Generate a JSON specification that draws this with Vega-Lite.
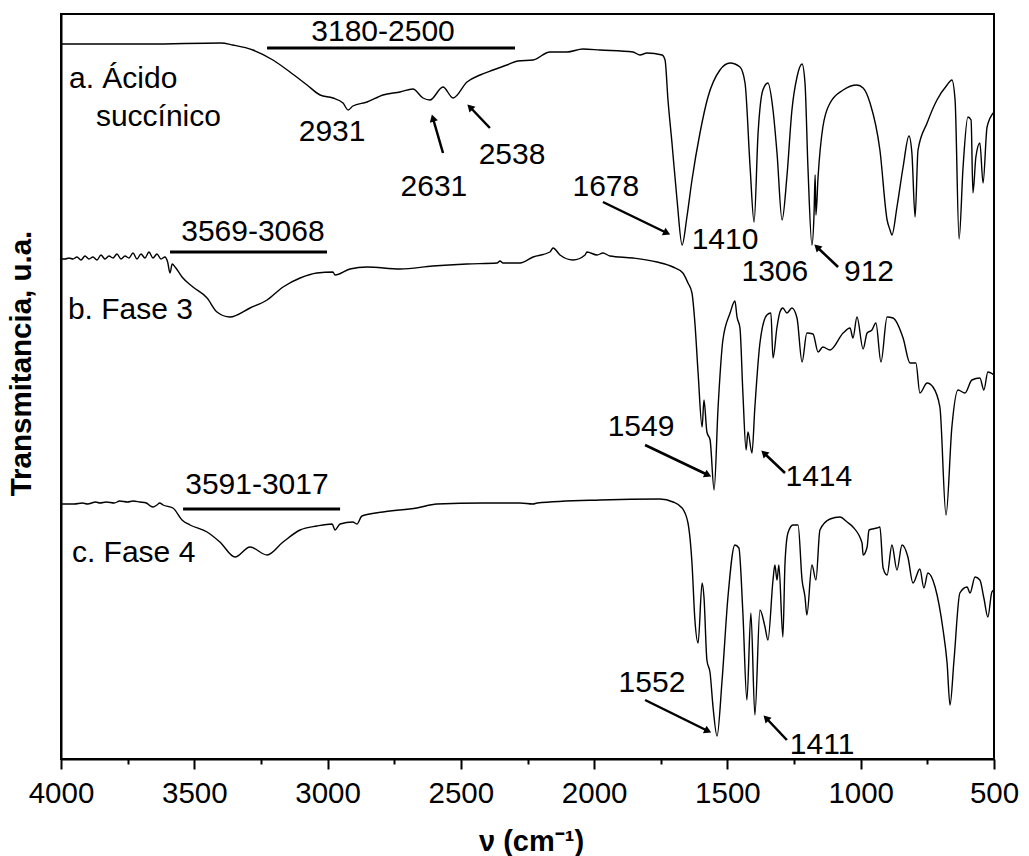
{
  "$schema": "https://vega.github.io/schema/vega-lite/v6.json",
  "width": 933,
  "height": 745,
  "autosize": {"type": "none"},
  "padding": {"left": 61, "top": 14, "right": 35, "bottom": 97},
  "background": "white",
  "config": {
    "view": {"stroke": "black", "strokeWidth": 2},
    "font": "Liberation Sans"
  },
  "datasets": {
    "spec": [
      {"s":"a","x":4000,"y":715},{"s":"a","x":3670,"y":715},{"s":"a","x":3400,"y":716},{"s":"a","x":3355,"y":714},{"s":"a","x":3280,"y":709},{"s":"a","x":3205,"y":699},{"s":"a","x":3141,"y":687},{"s":"a","x":3077,"y":674},{"s":"a","x":3028,"y":664},{"s":"a","x":2980,"y":661},{"s":"a","x":2942,"y":656},{"s":"a","x":2923,"y":649},{"s":"a","x":2905,"y":653},{"s":"a","x":2852,"y":657},{"s":"a","x":2792,"y":664},{"s":"a","x":2728,"y":667},{"s":"a","x":2680,"y":670},{"s":"a","x":2642,"y":661},{"s":"a","x":2616,"y":659},{"s":"a","x":2567,"y":672},{"s":"a","x":2529,"y":661},{"s":"a","x":2477,"y":677},{"s":"a","x":2428,"y":684},{"s":"a","x":2379,"y":689},{"s":"a","x":2327,"y":694},{"s":"a","x":2286,"y":698},{"s":"a","x":2229,"y":699},{"s":"a","x":2166,"y":707},{"s":"a","x":2102,"y":707},{"s":"a","x":2042,"y":710},{"s":"a","x":1978,"y":709},{"s":"a","x":1854,"y":707},{"s":"a","x":1828,"y":704},{"s":"a","x":1802,"y":706},{"s":"a","x":1745,"y":704},{"s":"a","x":1734,"y":699},{"s":"a","x":1723,"y":659},{"s":"a","x":1708,"y":616},{"s":"a","x":1689,"y":559},{"s":"a","x":1670,"y":514},{"s":"a","x":1652,"y":542},{"s":"a","x":1633,"y":579},{"s":"a","x":1603,"y":626},{"s":"a","x":1573,"y":662},{"s":"a","x":1528,"y":689},{"s":"a","x":1490,"y":696},{"s":"a","x":1453,"y":692},{"s":"a","x":1434,"y":676},{"s":"a","x":1415,"y":592},{"s":"a","x":1400,"y":537},{"s":"a","x":1385,"y":626},{"s":"a","x":1367,"y":669},{"s":"a","x":1348,"y":676},{"s":"a","x":1329,"y":649},{"s":"a","x":1314,"y":606},{"s":"a","x":1295,"y":539},{"s":"a","x":1277,"y":582},{"s":"a","x":1258,"y":649},{"s":"a","x":1239,"y":682},{"s":"a","x":1220,"y":695},{"s":"a","x":1209,"y":676},{"s":"a","x":1198,"y":592},{"s":"a","x":1183,"y":514},{"s":"a","x":1175,"y":546},{"s":"a","x":1171,"y":584},{"s":"a","x":1168,"y":544},{"s":"a","x":1160,"y":582},{"s":"a","x":1142,"y":632},{"s":"a","x":1115,"y":656},{"s":"a","x":1066,"y":669},{"s":"a","x":1014,"y":674},{"s":"a","x":991,"y":671},{"s":"a","x":965,"y":656},{"s":"a","x":928,"y":609},{"s":"a","x":901,"y":539},{"s":"a","x":890,"y":529},{"s":"a","x":883,"y":524},{"s":"a","x":864,"y":552},{"s":"a","x":841,"y":592},{"s":"a","x":819,"y":623},{"s":"a","x":808,"y":606},{"s":"a","x":796,"y":542},{"s":"a","x":785,"y":609},{"s":"a","x":751,"y":636},{"s":"a","x":714,"y":659},{"s":"a","x":676,"y":674},{"s":"a","x":658,"y":679},{"s":"a","x":646,"y":659},{"s":"a","x":631,"y":520},{"s":"a","x":616,"y":592},{"s":"a","x":598,"y":642},{"s":"a","x":586,"y":639},{"s":"a","x":579,"y":566},{"s":"a","x":568,"y":602},{"s":"a","x":553,"y":616},{"s":"a","x":541,"y":576},{"s":"a","x":526,"y":632},{"s":"a","x":500,"y":647},
      {"s":"b","x":4000,"y":500},{"s":"b","x":3985,"y":500},{"s":"b","x":3970,"y":501},{"s":"b","x":3955,"y":500},{"s":"b","x":3940,"y":502},{"s":"b","x":3925,"y":499},{"s":"b","x":3910,"y":503},{"s":"b","x":3895,"y":500},{"s":"b","x":3880,"y":502},{"s":"b","x":3865,"y":499},{"s":"b","x":3850,"y":504},{"s":"b","x":3835,"y":500},{"s":"b","x":3820,"y":503},{"s":"b","x":3805,"y":501},{"s":"b","x":3790,"y":505},{"s":"b","x":3775,"y":500},{"s":"b","x":3760,"y":503},{"s":"b","x":3745,"y":501},{"s":"b","x":3730,"y":506},{"s":"b","x":3715,"y":500},{"s":"b","x":3700,"y":505},{"s":"b","x":3685,"y":501},{"s":"b","x":3670,"y":507},{"s":"b","x":3655,"y":501},{"s":"b","x":3640,"y":505},{"s":"b","x":3625,"y":500},{"s":"b","x":3610,"y":502},{"s":"b","x":3600,"y":497},{"s":"b","x":3591,"y":486},{"s":"b","x":3583,"y":495},{"s":"b","x":3572,"y":492},{"s":"b","x":3546,"y":482},{"s":"b","x":3505,"y":472},{"s":"b","x":3452,"y":461},{"s":"b","x":3415,"y":447},{"s":"b","x":3366,"y":442},{"s":"b","x":3291,"y":451},{"s":"b","x":3227,"y":459},{"s":"b","x":3167,"y":472},{"s":"b","x":3103,"y":481},{"s":"b","x":3040,"y":486},{"s":"b","x":2980,"y":487},{"s":"b","x":2972,"y":484},{"s":"b","x":2916,"y":490},{"s":"b","x":2852,"y":492},{"s":"b","x":2728,"y":490},{"s":"b","x":2605,"y":493},{"s":"b","x":2477,"y":495},{"s":"b","x":2364,"y":496},{"s":"b","x":2353,"y":498},{"s":"b","x":2342,"y":496},{"s":"b","x":2278,"y":496},{"s":"b","x":2229,"y":502},{"s":"b","x":2166,"y":507},{"s":"b","x":2154,"y":511},{"s":"b","x":2128,"y":504},{"s":"b","x":2079,"y":499},{"s":"b","x":2034,"y":504},{"s":"b","x":2027,"y":507},{"s":"b","x":1989,"y":504},{"s":"b","x":1967,"y":506},{"s":"b","x":1941,"y":503},{"s":"b","x":1854,"y":501},{"s":"b","x":1764,"y":497},{"s":"b","x":1704,"y":492},{"s":"b","x":1667,"y":486},{"s":"b","x":1648,"y":476},{"s":"b","x":1633,"y":466},{"s":"b","x":1622,"y":436},{"s":"b","x":1610,"y":386},{"s":"b","x":1595,"y":332},{"s":"b","x":1588,"y":359},{"s":"b","x":1577,"y":327},{"s":"b","x":1565,"y":319},{"s":"b","x":1550,"y":269},{"s":"b","x":1535,"y":352},{"s":"b","x":1517,"y":419},{"s":"b","x":1490,"y":446},{"s":"b","x":1472,"y":458},{"s":"b","x":1464,"y":442},{"s":"b","x":1453,"y":431},{"s":"b","x":1442,"y":366},{"s":"b","x":1430,"y":309},{"s":"b","x":1423,"y":327},{"s":"b","x":1408,"y":306},{"s":"b","x":1397,"y":352},{"s":"b","x":1378,"y":416},{"s":"b","x":1352,"y":444},{"s":"b","x":1337,"y":446},{"s":"b","x":1329,"y":401},{"s":"b","x":1314,"y":432},{"s":"b","x":1303,"y":447},{"s":"b","x":1292,"y":451},{"s":"b","x":1277,"y":446},{"s":"b","x":1258,"y":451},{"s":"b","x":1239,"y":441},{"s":"b","x":1220,"y":397},{"s":"b","x":1202,"y":426},{"s":"b","x":1179,"y":425},{"s":"b","x":1160,"y":407},{"s":"b","x":1142,"y":412},{"s":"b","x":1115,"y":409},{"s":"b","x":1066,"y":426},{"s":"b","x":1040,"y":431},{"s":"b","x":1029,"y":421},{"s":"b","x":1014,"y":442},{"s":"b","x":991,"y":410},{"s":"b","x":976,"y":426},{"s":"b","x":958,"y":429},{"s":"b","x":943,"y":436},{"s":"b","x":924,"y":397},{"s":"b","x":901,"y":442},{"s":"b","x":879,"y":441},{"s":"b","x":841,"y":421},{"s":"b","x":815,"y":396},{"s":"b","x":793,"y":396},{"s":"b","x":778,"y":366},{"s":"b","x":751,"y":376},{"s":"b","x":729,"y":372},{"s":"b","x":703,"y":352},{"s":"b","x":680,"y":244},{"s":"b","x":658,"y":332},{"s":"b","x":635,"y":369},{"s":"b","x":609,"y":366},{"s":"b","x":583,"y":379},{"s":"b","x":553,"y":381},{"s":"b","x":538,"y":369},{"s":"b","x":523,"y":387},{"s":"b","x":500,"y":384},
      {"s":"c","x":4000,"y":255},{"s":"c","x":3950,"y":255},{"s":"c","x":3920,"y":256},{"s":"c","x":3900,"y":255},{"s":"c","x":3870,"y":257},{"s":"c","x":3854,"y":256},{"s":"c","x":3830,"y":257},{"s":"c","x":3800,"y":256},{"s":"c","x":3780,"y":258},{"s":"c","x":3750,"y":257},{"s":"c","x":3730,"y":258},{"s":"c","x":3704,"y":257},{"s":"c","x":3680,"y":256},{"s":"c","x":3665,"y":253},{"s":"c","x":3655,"y":252},{"s":"c","x":3640,"y":254},{"s":"c","x":3630,"y":256},{"s":"c","x":3617,"y":254},{"s":"c","x":3580,"y":251},{"s":"c","x":3546,"y":239},{"s":"c","x":3516,"y":234},{"s":"c","x":3452,"y":227},{"s":"c","x":3404,"y":217},{"s":"c","x":3347,"y":202},{"s":"c","x":3291,"y":212},{"s":"c","x":3227,"y":204},{"s":"c","x":3167,"y":217},{"s":"c","x":3103,"y":229},{"s":"c","x":3040,"y":233},{"s":"c","x":2983,"y":235},{"s":"c","x":2972,"y":229},{"s":"c","x":2953,"y":235},{"s":"c","x":2905,"y":237},{"s":"c","x":2890,"y":235},{"s":"c","x":2871,"y":243},{"s":"c","x":2792,"y":247},{"s":"c","x":2665,"y":251},{"s":"c","x":2590,"y":255},{"s":"c","x":2417,"y":256},{"s":"c","x":2278,"y":256},{"s":"c","x":2229,"y":255},{"s":"c","x":2214,"y":256},{"s":"c","x":1978,"y":259},{"s":"c","x":1753,"y":260},{"s":"c","x":1704,"y":257},{"s":"c","x":1670,"y":251},{"s":"c","x":1648,"y":236},{"s":"c","x":1633,"y":196},{"s":"c","x":1622,"y":139},{"s":"c","x":1610,"y":116},{"s":"c","x":1595,"y":176},{"s":"c","x":1588,"y":162},{"s":"c","x":1577,"y":99},{"s":"c","x":1565,"y":86},{"s":"c","x":1554,"y":52},{"s":"c","x":1539,"y":23},{"s":"c","x":1520,"y":79},{"s":"c","x":1498,"y":162},{"s":"c","x":1472,"y":214},{"s":"c","x":1457,"y":211},{"s":"c","x":1442,"y":146},{"s":"c","x":1427,"y":59},{"s":"c","x":1412,"y":146},{"s":"c","x":1397,"y":44},{"s":"c","x":1378,"y":149},{"s":"c","x":1359,"y":132},{"s":"c","x":1348,"y":119},{"s":"c","x":1329,"y":179},{"s":"c","x":1322,"y":194},{"s":"c","x":1314,"y":179},{"s":"c","x":1307,"y":194},{"s":"c","x":1292,"y":122},{"s":"c","x":1284,"y":196},{"s":"c","x":1273,"y":226},{"s":"c","x":1254,"y":234},{"s":"c","x":1235,"y":234},{"s":"c","x":1220,"y":179},{"s":"c","x":1209,"y":162},{"s":"c","x":1202,"y":144},{"s":"c","x":1183,"y":194},{"s":"c","x":1168,"y":179},{"s":"c","x":1153,"y":229},{"s":"c","x":1115,"y":240},{"s":"c","x":1078,"y":242},{"s":"c","x":1051,"y":237},{"s":"c","x":1029,"y":232},{"s":"c","x":995,"y":216},{"s":"c","x":991,"y":204},{"s":"c","x":976,"y":212},{"s":"c","x":969,"y":229},{"s":"c","x":939,"y":231},{"s":"c","x":928,"y":232},{"s":"c","x":916,"y":191},{"s":"c","x":901,"y":184},{"s":"c","x":883,"y":214},{"s":"c","x":864,"y":189},{"s":"c","x":845,"y":214},{"s":"c","x":823,"y":202},{"s":"c","x":804,"y":176},{"s":"c","x":778,"y":190},{"s":"c","x":763,"y":171},{"s":"c","x":748,"y":186},{"s":"c","x":721,"y":172},{"s":"c","x":691,"y":129},{"s":"c","x":676,"y":96},{"s":"c","x":665,"y":54},{"s":"c","x":650,"y":99},{"s":"c","x":628,"y":166},{"s":"c","x":601,"y":172},{"s":"c","x":590,"y":166},{"s":"c","x":571,"y":182},{"s":"c","x":553,"y":179},{"s":"c","x":538,"y":161},{"s":"c","x":523,"y":142},{"s":"c","x":508,"y":167},{"s":"c","x":500,"y":169}
    ],
    "names": [
      {"t":"a. Ácido","x":3970,"y":680},
      {"t":"succínico","x":3869,"y":642},
      {"t":"b. Fase 3","x":3974,"y":449},
      {"t":"c. Fase 4","x":3959,"y":206}
    ],
    "labels": [
      {"t":"3180-2500","x":2792,"y":727},
      {"t":"2931","x":2983,"y":627},
      {"t":"2631","x":2601,"y":572},
      {"t":"2538","x":2308,"y":604},
      {"t":"1678","x":1956,"y":572},
      {"t":"1410","x":1509,"y":519},
      {"t":"1306","x":1322,"y":487},
      {"t":"912","x":969,"y":487},
      {"t":"3569-3068","x":3280,"y":527},
      {"t":"1549","x":1824,"y":332},
      {"t":"1414","x":1157,"y":282},
      {"t":"3591-3017","x":3265,"y":274},
      {"t":"1552","x":1783,"y":76},
      {"t":"1411","x":1145,"y":14}
    ],
    "bars": [
      {"x":3227,"x2":2297,"y":711},
      {"x":3591,"x2":3002,"y":507},
      {"x":3542,"x2":2953,"y":250}
    ],
    "arrows": [
      {"x":2567,"y":606,"x2":2605,"y2":641,"ang":344},
      {"x":2391,"y":631,"x2":2466,"y2":652,"ang":316},
      {"x":1967,"y":557,"x2":1727,"y2":526,"ang":116},
      {"x":1085,"y":492,"x2":1164,"y2":512,"ang":314},
      {"x":1809,"y":314,"x2":1573,"y2":284,"ang":116},
      {"x":1284,"y":286,"x2":1363,"y2":306,"ang":314},
      {"x":1809,"y":59,"x2":1573,"y2":28,"ang":116},
      {"x":1277,"y":19,"x2":1355,"y2":41,"ang":316}
    ]
  },
  "encoding": {
    "x": {
      "field": "x", "type": "quantitative",
      "scale": {"domain": [500, 4000], "reverse": true, "nice": false, "zero": false},
      "axis": {
        "title": "ν (cm⁻¹)",
        "titleFont": "Liberation Sans", "titleFontSize": 29, "titleFontWeight": "bold", "titleColor": "black",
        "titleX": 470, "titleY": 91, "titleBaseline": "alphabetic", "titleAlign": "center",
        "values": [500,750,1000,1250,1500,1750,2000,2250,2500,2750,3000,3250,3500,3750,4000],
        "labelExpr": "datum.value % 500 === 0 ? datum.label : ''",
        "format": "d",
        "labelFont": "Liberation Sans", "labelFontSize": 29.5, "labelColor": "black",
        "labelBaseline": "middle", "labelPadding": 24, "labelOverlap": false, "labelFlush": false,
        "tickSize": {"condition": {"test": "datum.value % 500 === 0", "value": 10}, "value": 5},
        "tickColor": "black", "tickWidth": 2,
        "domainColor": "black", "domainWidth": 2,
        "grid": false
      }
    },
    "y": {
      "field": "y", "type": "quantitative",
      "scale": {"domain": [0, 745], "nice": false, "zero": false},
      "axis": {
        "title": "Transmitancia, u.a.",
        "titleFont": "Liberation Sans", "titleFontSize": 29.5, "titleFontWeight": "bold", "titleColor": "black",
        "titleX": -40, "titleY": 349, "titleBaseline": "middle", "titleAlign": "center", "titleAngle": 270,
        "ticks": false, "labels": false,
        "domainColor": "black", "domainWidth": 2,
        "grid": false
      }
    }
  },
  "layer": [
    {
      "data": {"name": "spec"},
      "mark": {"type": "line", "color": "black", "strokeWidth": 1.4, "interpolate": "monotone"},
      "encoding": {"detail": {"field": "s"}, "order": {"field": "x", "type": "quantitative"}}
    },
    {
      "data": {"name": "bars"},
      "mark": {"type": "rule", "color": "black", "strokeWidth": 3},
      "encoding": {"x2": {"field": "x2"}}
    },
    {
      "data": {"name": "arrows"},
      "mark": {"type": "rule", "color": "black", "strokeWidth": 2.5},
      "encoding": {"x2": {"field": "x2"}, "y2": {"field": "y2"}}
    },
    {
      "data": {"name": "arrows"},
      "mark": {"type": "point", "shape": "triangle-up", "filled": true, "color": "black", "size": 70, "opacity": 1},
      "encoding": {
        "x": {"field": "x2", "type": "quantitative"},
        "y": {"field": "y2", "type": "quantitative"},
        "angle": {"field": "ang", "type": "quantitative", "scale": null}
      }
    },
    {
      "data": {"name": "labels"},
      "mark": {"type": "text", "font": "Liberation Sans", "fontSize": 30, "color": "black", "baseline": "middle", "align": "center"},
      "encoding": {"text": {"field": "t"}}
    },
    {
      "data": {"name": "names"},
      "mark": {"type": "text", "font": "Liberation Sans", "fontSize": 30, "color": "black", "baseline": "middle", "align": "left"},
      "encoding": {"text": {"field": "t"}}
    }
  ]
}
